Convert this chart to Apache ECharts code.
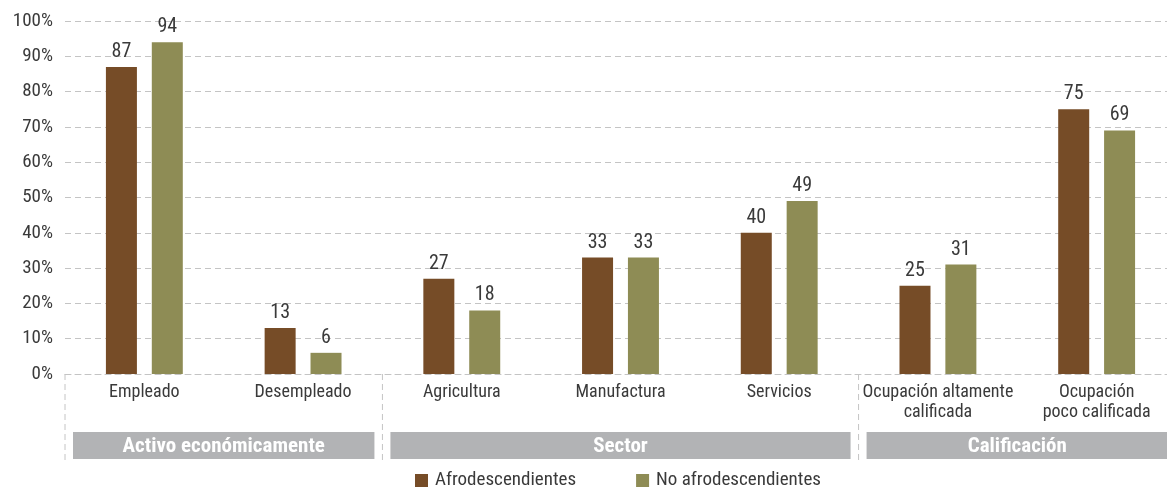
<!DOCTYPE html>
<html>
<head>
<meta charset="utf-8">
<script src="https://cdn.jsdelivr.net/npm/echarts@6/dist/echarts.min.js"></script>
<style>
  html, body { margin: 0; padding: 0; background: #fff; overflow: hidden; }
  /* the plot runs a few pixels past the right edge of the view */
  #chart { width: 1180px; height: 498px; }
</style>
</head>
<body>
<div id="chart"></div>
<script>
const categories = [
  'Empleado', 'Desempleado', 'Agricultura', 'Manufactura', 'Servicios',
  'Ocupación altamente\ncalificada', 'Ocupación\npoco calificada'
];
const afro = [87, 13, 27, 33, 40, 25, 75];
const noAfro = [94, 6, 18, 33, 49, 31, 69];
const yTicks = [0, 10, 20, 30, 40, 50, 60, 70, 80, 90, 100];
// group name, first category index, last category index
const groupNames = ['Activo económicamente', 'Sector', 'Calificación'];
const groupStart = [0, 2, 5];
const groupEnd = [1, 4, 6];

const FONT = '"Liberation Sans Narrow", "Roboto Condensed", "Liberation Sans", sans-serif';
const TEXT = '#3a3a3a';
const BROWN = '#764c27';
const OLIVE = '#8e8c55';

const chart = echarts.init(document.getElementById('chart'));

const valueLabel = {
  show: true, position: 'top', distance: 5,
  color: TEXT, fontFamily: FONT, fontSize: 20
};

chart.setOption({
  animation: false,
  grid: { left: 65, right: 4, top: 21, bottom: 124, containLabel: false },
  legend: {
    left: 410, bottom: 3,
    itemWidth: 13, itemHeight: 13, itemGap: 60, itemStyle: { borderWidth: 0 },
    icon: 'rect',
    textStyle: { color: TEXT, fontFamily: FONT, fontSize: 19, padding: [0, 0, 0, 2] },
    data: ['Afrodescendientes', 'No afrodescendientes']
  },
  xAxis: {
    type: 'category',
    data: categories,
    axisLine: { show: true, lineStyle: { color: '#c4c4c4', type: [6, 4], width: 1 } },
    axisTick: { show: false },
    axisLabel: {
      color: TEXT, fontFamily: FONT, fontSize: 18, lineHeight: 20,
      margin: 8, interval: 0
    }
  },
  yAxis: {
    type: 'value', min: yTicks[0], max: yTicks[yTicks.length - 1], interval: 10,
    axisLine: { show: false }, axisTick: { show: false },
    axisLabel: {
      color: TEXT, fontFamily: FONT, fontSize: 19, margin: 12,
      formatter: v => v + '%'
    },
    splitLine: { lineStyle: { color: '#c4c4c4', type: [6, 4], width: 1 } }
  },
  series: [
    {
      name: 'Afrodescendientes', type: 'bar', data: afro,
      itemStyle: { color: BROWN }, barWidth: 31, barGap: '48%',
      label: valueLabel
    },
    {
      name: 'No afrodescendientes', type: 'bar', data: noAfro,
      itemStyle: { color: OLIVE }, barWidth: 31,
      label: valueLabel
    }
  ]
});

// Group bands and dashed separators below the category axis
function drawGroups() {
  const x0 = chart.convertToPixel({ xAxisIndex: 0 }, 0);
  const x1 = chart.convertToPixel({ xAxisIndex: 0 }, 1);
  const step = x1 - x0;
  const yBase = chart.convertToPixel({ yAxisIndex: 0 }, 0);
  const bandTop = yBase + 58, bandH = 27, sepBottom = yBase + 86;
  const elements = [];
  groupNames.forEach((name, i) => {
    const left = x0 - step / 2 + groupStart[i] * step;
    const right = x0 - step / 2 + (groupEnd[i] + 1) * step;
    elements.push({
      type: 'line',
      shape: { x1: left, y1: yBase, x2: left, y2: sepBottom },
      style: { stroke: '#c4c4c4', lineWidth: 1, lineDash: [6, 4] }
    });
    elements.push({
      type: 'rect',
      shape: { x: left + 8, y: bandTop, width: right - left - 16, height: bandH },
      style: { fill: '#b2b3b5' }
    });
    elements.push({
      type: 'text',
      x: (left + right) / 2, y: bandTop + bandH / 2 + 1,
      style: {
        text: name, fill: '#ffffff', font: 'bold 21px ' + FONT,
        align: 'center', verticalAlign: 'middle'
      }
    });
  });
  chart.setOption({ graphic: { elements } });
}
drawGroups();
</script>
</body>
</html>
